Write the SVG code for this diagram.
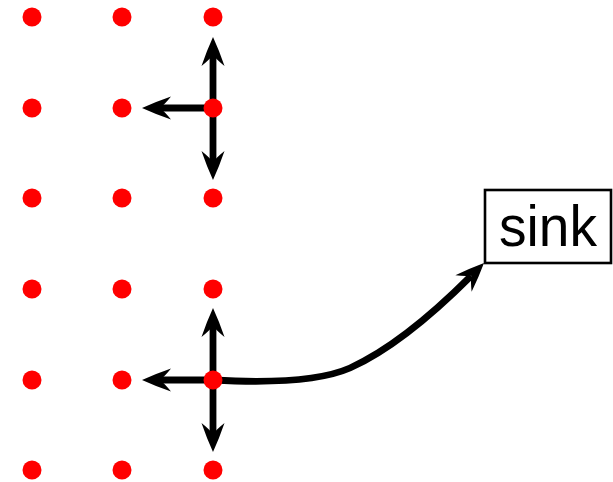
<svg xmlns="http://www.w3.org/2000/svg" xmlns:xlink="http://www.w3.org/1999/xlink" width="613" height="482" viewBox="0 0 613 482">
<style>
.dot{fill:#ff0000}
.edge{fill:none;stroke:#000;stroke-width:6.8;stroke-linecap:butt}
.head{fill:#000}
.box{fill:#fff;stroke:#000;stroke-width:2.6}
.lbl{font-family:"Liberation Sans",Arial,sans-serif;font-size:58px;fill:#000}
</style>
<defs>
<path id="ah" class="head" d="M0,0 Q-13,-6 -29,-11.5 Q-23,-4 -18,0 Q-23,4 -29,11.5 Q-13,6 0,0 Z"/>
</defs>
<rect width="613" height="482" fill="#fff"/>
<g id="connectors">
<path class="edge" d="M213,108 L213,55"/>
<use xlink:href="#ah" href="#ah" transform="translate(213,37) rotate(-90)"/>
<path class="edge" d="M213,108 L160,108"/>
<use xlink:href="#ah" href="#ah" transform="translate(142,108) rotate(180)"/>
<path class="edge" d="M213,108 L213,162"/>
<use xlink:href="#ah" href="#ah" transform="translate(213,180) rotate(90)"/>
<path class="edge" d="M213,380 L213,326"/>
<use xlink:href="#ah" href="#ah" transform="translate(213,308) rotate(-90)"/>
<path class="edge" d="M213,380 L160,380"/>
<use xlink:href="#ah" href="#ah" transform="translate(142,380) rotate(180)"/>
<path class="edge" d="M213,380 L213,434"/>
<use xlink:href="#ah" href="#ah" transform="translate(213,452) rotate(90)"/>
<path class="edge" d="M213,380 C285,384 325,379 350,368 C392,349 435,312 471,276"/>
<use xlink:href="#ah" href="#ah" transform="translate(484,263) rotate(-45)"/>
</g>
<g id="grid">
<circle class="dot" cx="32" cy="17" r="9.5"/><circle class="dot" cx="122" cy="17" r="9.5"/><circle class="dot" cx="213" cy="17" r="9.5"/>
<circle class="dot" cx="32" cy="108" r="9.5"/><circle class="dot" cx="122" cy="108" r="9.5"/>
<circle class="dot" cx="32" cy="198" r="9.5"/><circle class="dot" cx="122" cy="198" r="9.5"/><circle class="dot" cx="213" cy="198" r="9.5"/>
<circle class="dot" cx="32" cy="289" r="9.5"/><circle class="dot" cx="122" cy="289" r="9.5"/><circle class="dot" cx="213" cy="289" r="9.5"/>
<circle class="dot" cx="32" cy="380" r="9.5"/><circle class="dot" cx="122" cy="380" r="9.5"/>
<circle class="dot" cx="32" cy="470" r="9.5"/><circle class="dot" cx="122" cy="470" r="9.5"/><circle class="dot" cx="213" cy="470" r="9.5"/>
</g>
<g id="node-a"><circle class="dot" cx="213" cy="108" r="9.5"/></g>
<g id="node-b"><circle class="dot" cx="213" cy="380" r="9.5"/></g>
<g id="sink">
<rect class="box" x="485" y="190" width="126" height="73"/>
<text class="lbl" x="548" y="246" text-anchor="middle" textLength="98" lengthAdjust="spacingAndGlyphs">sink</text>
</g>
</svg>
